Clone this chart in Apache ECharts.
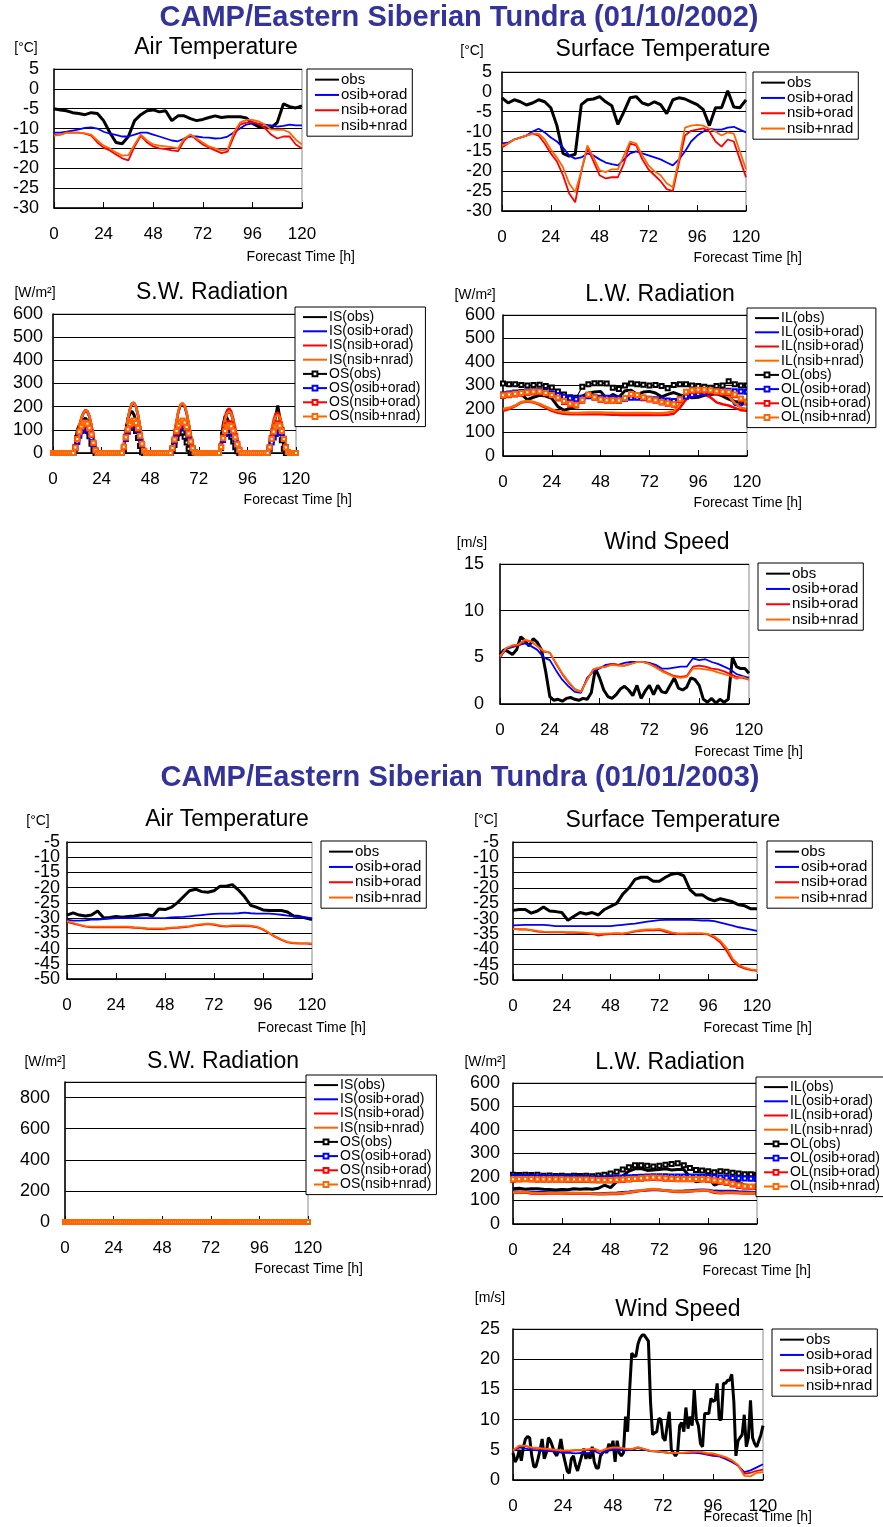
<!DOCTYPE html>
<html>
<head>
<meta charset="utf-8">
<script src="https://cdn.jsdelivr.net/npm/echarts@6/dist/echarts.min.js"></script>
<style>
  html, body { margin: 0; padding: 0; background: #ffffff; }
  #chart { width: 883px; height: 1527px; }
</style>
</head>
<body>
<div id="chart"></div>
<script>
// ---------------------------------------------------------------------------
// Forecast-hour sampling (index -> hour since start of forecast)
// ---------------------------------------------------------------------------
function hoursEvery(step) { const h = []; for (let t = 0; t <= 120; t += step) h.push(t); return h; }
const HOURS_1 = hoursEvery(1);
const HOURS_2 = hoursEvery(2);
const HOURS_3 = hoursEvery(3);

// Tick labels
const X_TICKS = [0, 24, 48, 72, 96, 120];
const Y_TICKS_TEMP_2002 = [-30, -25, -20, -15, -10, -5, 0, 5];
const Y_TICKS_TEMP_2003 = [-50, -45, -40, -35, -30, -25, -20, -15, -10, -5];
const Y_TICKS_RAD_600 = [0, 100, 200, 300, 400, 500, 600];
const Y_TICKS_RAD_800 = [0, 200, 400, 600, 800];
const Y_TICKS_WIND_2002 = [0, 5, 10, 15];
const Y_TICKS_WIND_2003 = [0, 5, 10, 15, 20, 25];

// Run names
const RUNS = ['obs', 'osib+orad', 'nsib+orad', 'nsib+nrad'];

// ---------------------------------------------------------------------------
// 01/10/2002 case
// ---------------------------------------------------------------------------
// Air temperature [degC], 3-hourly
const air02Obs = [-5,-5.3,-5.5,-6,-6.2,-6.5,-6,-6.2,-8,-11, -13.5,-13.8,-12,-8,-6.5,-5.5,-5.3,-5.8,-5.5,-8,
  -6.8,-6.8,-7.5,-8,-7.7,-7.2,-6.8,-7.2,-7,-7, -7,-7.3,-8.7,-9.5,-9.8,-9.8,-8.5,-3.8,-4.5,-4.8, -4.3];
const air02Osib = [-11,-11,-10.8,-10.5,-10.2,-9.8,-9.7,-10,-10.8,-11.3, -11.6,-12,-12,-11.5,-11,-11,-11.5,-12,-12.5,-13,
  -13.2,-12.5,-12,-12,-12.2,-12.3,-12.5,-12.4,-12,-11, -10,-9,-8.7,-8.8,-9,-9.2,-9.5,-9.3,-9,-9.2, -9.2];
const air02NsibOrad = [-11.5,-11.5,-11,-11,-11,-11.3,-11.8,-13.5,-14.8,-15.5, -16.5,-17.5,-18,-14.5,-11.8,-13.5,-14.5,-15,-15.2,-15.5,
  -15.7,-13,-11.5,-12.8,-14,-14.8,-15.5,-16.2,-15.8,-12, -9,-8.5,-8.3,-8.8,-9.8,-11.5,-12.5,-12,-12,-14, -15];
const air02NsibNrad = [-11.8,-11.5,-11,-11,-11,-11.2,-11.5,-13,-14.3,-15, -16,-16.8,-16.7,-14,-11.5,-13,-14,-14.3,-14.5,-14.7,
  -15,-12.5,-11.5,-12.5,-13.5,-14.5,-15,-15.5,-15.3,-11, -8.5,-7.8,-7.8,-8.2,-9,-10.2,-10.3,-10.3,-11,-12.8, -14];

// Surface temperature [degC], 3-hourly
const sfc02Obs = [-1.5,-2.8,-2,-2.5,-3.3,-2.8,-2,-2.5,-4,-8.5, -15.5,-16.2,-15.7,-3.2,-2,-1.8,-1.2,-2.5,-3.5,-8.2,
  -5,-1.5,-1.2,-2.8,-3.3,-2.5,-3.2,-5.5,-2,-1.5, -1.8,-2.5,-3.2,-4.5,-8.5,-4,-4,0.3,-3.8,-4, -2];
const sfc02Osib = [-13,-12.8,-12,-11.5,-11,-10,-9.3,-10.2,-11.5,-12.5, -14,-16,-16.8,-16.5,-15.5,-16,-17,-17.8,-18.2,-18.5,
  -17,-15.5,-15,-15.5,-16,-16.5,-17,-17.8,-18.5,-17, -15,-12.5,-11,-10,-9.3,-9.5,-9.5,-9,-8.8,-9.5, -10.2];
const sfc02NsibOrad = [-14,-13,-12,-11.5,-11,-10.5,-11,-13,-15.5,-17.5, -21,-25.5,-27.8,-20,-14,-17.5,-21,-21.8,-21.5,-21.5,
  -18,-13,-13.5,-17,-19.5,-21,-22.5,-24.5,-25,-18, -11,-9.8,-9.5,-9.2,-10,-12.5,-13.8,-12,-12.5,-17, -21.5];
const sfc02NsibNrad = [-13.5,-13,-12,-11.5,-11,-10.5,-10.5,-12,-14.5,-16.5, -19,-23,-25.3,-20,-13.5,-16.5,-19.8,-20.2,-19.5,-19.5,
  -16,-12.5,-13,-16,-18.5,-20,-21,-23,-24,-17, -9,-8.5,-8.3,-8.5,-9.3,-10,-11,-10.2,-10.5,-15, -19.5];

// Short-wave radiation [W/m2], hourly (one row per day)
const sw02IsObs = [
  0,0,0,0,0,0,0,0,0,0, 0,40,100,120,135,145,150,140,110,60,20,0,0,0,
  0,0,0,0,0,0,0,0,0,0, 0,20,90,150,170,180,165,135,100,50,5,0,0,0,
  0,0,0,0,0,0,0,0,0,0, 0,15,50,85,105,115,105,85,55,25,0,0,0,0,
  0,0,0,0,0,0,0,0,0,0, 0,40,120,160,150,130,105,75,40,15,0,0,0,0,
  0,0,0,0,0,0,0,0,0,0, 0,30,80,120,160,205,150,90,30,0,0,0,0,0,
  0];
const sw02IsOsib = [
  0,0,0,0,0,0,0,0,0,0, 0,28,72,112,148,170,180,176,155,115,65,18,0,0,
  0,0,0,0,0,0,0,0,0,0, 0,38,98,148,188,212,215,198,162,112,58,14,0,0,
  0,0,0,0,0,0,0,0,0,0, 0,28,82,135,180,205,210,200,170,125,75,30,4,0,
  0,0,0,0,0,0,0,0,0,0, 0,40,100,145,170,177,168,138,98,52,18,0,0,0,
  0,0,0,0,0,0,0,0,0,0, 0,30,70,100,118,125,115,90,55,22,3,0,0,0,
  0];
const sw02IsNsibOrad = [
  0,0,0,0,0,0,0,0,0,0, 0,30,76,117,152,175,185,182,160,120,70,20,0,0,
  0,0,0,0,0,0,0,0,0,0, 0,40,100,150,190,214,217,200,165,115,60,15,0,0,
  0,0,0,0,0,0,0,0,0,0, 0,30,85,138,183,208,213,203,173,128,78,33,5,0,
  0,0,0,0,0,0,0,0,0,0, 0,45,110,160,185,192,180,150,105,58,20,0,0,0,
  0,0,0,0,0,0,0,0,0,0, 0,42,100,145,170,175,160,125,78,32,5,0,0,0,
  0];
const sw02IsNsibNrad = [
  0,0,0,0,0,0,0,0,0,0, 0,30,75,115,150,172,183,180,160,120,70,20,0,0,
  0,0,0,0,0,0,0,0,0,0, 0,40,100,150,190,215,218,200,165,115,60,15,0,0,
  0,0,0,0,0,0,0,0,0,0, 0,30,85,140,185,210,215,205,175,130,80,35,5,0,
  0,0,0,0,0,0,0,0,0,0, 0,40,100,145,172,180,170,140,100,55,20,0,0,0,
  0,0,0,0,0,0,0,0,0,0, 0,40,95,135,158,165,155,120,75,30,5,0,0,0,
  0];
const sw02OsObs = [
  0,0,0,0,0,0,0,0,0,0, 0,25,65,88,100,105,103,95,72,40,10,0,0,0,
  0,0,0,0,0,0,0,0,0,0, 0,15,70,110,125,130,120,95,65,30,3,0,0,0,
  0,0,0,0,0,0,0,0,0,0, 0,10,35,65,85,95,88,70,45,18,0,0,0,0,
  0,0,0,0,0,0,0,0,0,0, 0,25,80,95,92,85,70,50,25,8,0,0,0,0,
  0,0,0,0,0,0,0,0,0,0, 0,20,55,85,100,110,90,55,18,0,0,0,0,0,
  0];
const sw02OsOsib = [
  0,0,0,0,0,0,0,0,0,0, 0,18,48,75,95,107,110,106,90,65,35,10,0,0,
  0,0,0,0,0,0,0,0,0,0, 0,22,60,92,112,123,125,116,95,66,34,8,0,0,
  0,0,0,0,0,0,0,0,0,0, 0,18,50,82,105,117,120,114,98,72,43,17,2,0,
  0,0,0,0,0,0,0,0,0,0, 0,22,56,82,98,104,98,80,57,30,10,0,0,0,
  0,0,0,0,0,0,0,0,0,0, 0,18,45,67,82,90,95,85,60,25,4,0,0,0,
  0];
const sw02OsNsibOrad = [
  0,0,0,0,0,0,0,0,0,0, 0,22,58,88,112,125,128,122,105,78,42,12,0,0,
  0,0,0,0,0,0,0,0,0,0, 0,25,65,98,120,132,135,126,104,72,38,10,0,0,
  0,0,0,0,0,0,0,0,0,0, 0,20,55,90,115,128,133,126,108,80,48,20,3,0,
  0,0,0,0,0,0,0,0,0,0, 0,28,68,100,120,128,122,102,72,40,14,0,0,0,
  0,0,0,0,0,0,0,0,0,0, 0,25,65,95,118,128,122,98,62,25,4,0,0,0,
  0];
const sw02OsNsibNrad = [
  0,0,0,0,0,0,0,0,0,0, 0,24,60,92,116,128,132,126,108,80,44,12,0,0,
  0,0,0,0,0,0,0,0,0,0, 0,27,68,102,125,137,140,130,108,75,40,10,0,0,
  0,0,0,0,0,0,0,0,0,0, 0,22,58,95,120,134,140,132,112,84,50,21,3,0,
  0,0,0,0,0,0,0,0,0,0, 0,26,64,95,113,120,115,96,68,38,13,0,0,0,
  0,0,0,0,0,0,0,0,0,0, 0,25,62,92,113,122,118,95,60,24,4,0,0,0,
  0];

// Long-wave radiation [W/m2], 3-hourly
const lw02IlObs = [250,258,265,262,240,250,258,255,245,210, 195,202,210,255,268,272,275,245,262,250,
  278,280,262,272,275,268,252,262,270,260, 252,248,250,258,262,265,255,242,232,228, 222];
const lw02IlOsib = [268,272,275,276,278,280,282,276,270,262, 256,250,245,250,256,253,250,250,249,247,
  246,250,250,248,246,244,241,238,236,245, 255,262,266,270,275,278,280,262,218,215, 230];
const lw02IlNsibOrad = [192,200,212,228,232,228,218,205,192,184, 180,178,178,178,178,178,178,177,176,175,
  175,175,175,175,175,175,174,176,180,205, 240,255,262,262,250,228,220,215,205,195, 193];
const lw02IlNsibNrad = [200,205,215,230,234,230,222,210,198,190, 186,184,183,184,185,185,185,184,184,183,
  183,183,183,183,183,182,182,185,190,225, 255,265,272,275,272,268,264,255,225,205, 200];
const lw02OlObs = [308,305,305,302,300,302,303,298,292,275, 262,250,248,295,305,310,310,308,290,285,
  300,308,305,303,300,302,298,288,302,305, 305,300,298,295,290,298,300,318,305,300, 300];
const lw02OlOsib = [262,266,270,272,274,276,278,273,266,258, 252,246,242,248,254,251,248,248,247,245,
  244,248,248,246,244,242,239,236,234,243, 253,260,264,268,272,275,277,278,276,275, 273];
const lw02OlNsibOrad = [255,258,262,265,268,270,272,266,258,245, 230,218,215,235,260,248,238,235,235,234,
  245,262,258,248,240,235,228,222,218,238, 270,276,278,278,275,270,268,268,258,240, 228];
const lw02OlNsibNrad = [258,262,265,268,271,273,274,268,260,248, 234,222,218,238,262,250,240,237,237,236,
  247,264,260,250,242,237,230,225,220,242, 273,280,282,282,280,276,273,272,262,245, 232];

// Wind speed [m/s]: observation 2-hourly, model runs 3-hourly
const wind02Obs = [5.3,5.8,5.6,5.3,5.8,7.2,6.8,6.2,7.0,6.6, 5.8,3.5,0.8,0.4,0.5,0.3,0.6,0.7,0.5,0.4,
  0.6,0.5,1.2,3.8,2.8,1.5,0.8,0.6,1.0,1.6, 1.9,1.5,0.9,2.0,0.6,1.4,2.0,1.0,2.0,1.3,
  1.2,2.0,2.8,1.7,1.5,1.8,2.8,2.6,2.0,0.5, 0.2,0.6,0.1,0.5,0.2,0.5,5.0,4.0,3.8,3.8, 3.3];
const wind02Osib = [5.0,5.9,6.1,6.3,6.5,6.2,5.8,5.0,4.7,3.6, 2.6,1.9,1.3,1.2,2.8,3.5,3.8,4.2,4.3,4.2,
  4.4,4.5,4.5,4.5,4.4,4.2,3.8,3.8,3.9,4.0, 4.0,4.9,4.7,4.8,4.5,4.3,4.0,3.7,3.2,3.0, 2.8];
const wind02NsibOrad = [5.0,6.0,6.2,6.3,6.8,6.7,6.2,5.6,5.5,4.3, 3.2,2.3,1.6,1.3,2.6,3.7,3.9,4.0,4.3,4.2,
  4.1,4.3,4.5,4.5,4.3,4.0,3.6,3.3,3.0,2.9, 3.0,4.0,4.1,4.0,3.8,3.7,3.5,3.2,2.9,2.8, 2.6];
const wind02NsibNrad = [5.1,6.0,6.3,6.4,6.9,6.7,6.2,5.7,5.5,4.4, 3.3,2.4,1.6,1.3,2.6,3.7,3.9,4.0,4.2,4.1,
  4.1,4.3,4.5,4.5,4.3,3.9,3.5,3.2,2.9,2.8, 2.9,3.8,3.8,3.7,3.6,3.4,3.2,3.0,2.7,2.9, 2.6];

// ---------------------------------------------------------------------------
// 01/01/2003 case
// ---------------------------------------------------------------------------
const air03Obs = [-29,-28.3,-29,-29.3,-29,-27.7,-30,-29.8,-29.5,-29.7, -29.5,-29.3,-29,-28.8,-29.3,-27,-27.2,-26.5,-25,-23,
  -21,-20.5,-21.3,-21.5,-21,-19.5,-19.5,-19,-20.8,-23, -25.8,-26.5,-27.3,-27.5,-27.5,-27.5,-28,-29.3,-29.5,-30, -30.5];
const air03Osib = [-30.5,-30.8,-30.8,-30.7,-30.5,-30.5,-30.3,-30.2,-30,-30, -30,-30,-30,-30,-30,-30,-30,-29.8,-29.7,-29.6,
  -29.4,-29.2,-29,-28.8,-28.6,-28.5,-28.5,-28.5,-28.4,-28.2, -28.4,-28.5,-28.5,-28.5,-28.7,-28.9,-29.2,-29.4,-29.6,-29.8, -30];
const air03NsibOrad = [-31.2,-31.8,-32.3,-32.8,-33,-33,-33,-33,-33,-33, -33,-33.2,-33.3,-33.5,-33.6,-33.6,-33.5,-33.3,-33.2,-33,
  -32.8,-32.4,-32.2,-32,-32.2,-32.6,-32.8,-32.6,-32.6,-32.6, -32.7,-33,-33.8,-35,-36.2,-37.2,-38,-38.3,-38.4,-38.4, -38.5];
const air03NsibNrad = [-31,-31.6,-32.1,-32.6,-32.8,-32.8,-32.8,-32.8,-32.8,-32.8, -32.8,-33,-33.1,-33.3,-33.4,-33.4,-33.3,-33.1,-33,-32.8,
  -32.6,-32.2,-32,-31.8,-32,-32.4,-32.6,-32.4,-32.4,-32.4, -32.5,-32.8,-33.6,-34.8,-36,-37,-37.8,-38.1,-38.2,-38.2, -38.3];

const sfc03Obs = [-27.3,-27,-27,-28.2,-27.5,-26.2,-27.5,-27.7,-28,-30.5, -29.2,-28,-28.5,-28,-28.8,-27,-26,-25,-22,-20,
  -17.2,-16.5,-16.5,-17.8,-17.8,-16.5,-15.5,-15.2,-16,-20.5, -22.3,-22.2,-23.5,-24.2,-23.5,-24,-24.5,-25.5,-25.8,-26.8, -26.8];
const sfc03Osib = [-32.2,-32.1,-32,-32,-32,-32,-32.2,-32.4,-32.4,-32.4, -32.4,-32.4,-32.4,-32.4,-32.4,-32.4,-32.4,-32.2,-32,-31.8,
  -31.6,-31.3,-31,-30.7,-30.5,-30.4,-30.4,-30.4,-30.4,-30.4, -30.5,-30.6,-30.6,-30.8,-31.3,-31.8,-32.3,-32.8,-33.2,-33.6, -34];
const sfc03NsibOrad = [-33.2,-33.6,-33.5,-33.8,-34.2,-34.4,-34.5,-34.5,-34.5,-34.6, -34.6,-34.7,-34.8,-35,-35.5,-35.2,-35,-34.9,-35,-34.6,
  -34.2,-34,-33.8,-33.8,-33.7,-34.3,-34.8,-35,-35,-34.9, -34.9,-34.9,-35.2,-36.2,-37.8,-40.5,-43.8,-45.5,-46.3,-46.8, -47];
const sfc03NsibNrad = [-33.4,-33.3,-33.4,-33.7,-34,-34.2,-34.3,-34.3,-34.3,-34.4, -34.4,-34.5,-34.6,-34.8,-35,-34.9,-34.8,-34.7,-34.8,-34.5,
  -34,-33.7,-33.5,-33.5,-33.3,-33.8,-34.5,-34.8,-34.8,-34.8, -34.8,-34.8,-35,-35.8,-37.2,-39.5,-43,-45,-46,-46.5, -46.8];

// Polar night: short-wave fluxes stay at zero for the whole forecast (hourly)
const sw03PolarNight = [
  0,0,0,0,0,0,0,0,0,0,0,0,0,0,0,0,0,0,0,0,0,0,0,0,
  0,0,0,0,0,0,0,0,0,0,0,0,0,0,0,0,0,0,0,0,0,0,0,0,
  0,0,0,0,0,0,0,0,0,0,0,0,0,0,0,0,0,0,0,0,0,0,0,0,
  0,0,0,0,0,0,0,0,0,0,0,0,0,0,0,0,0,0,0,0,0,0,0,0,
  0,0,0,0,0,0,0,0,0,0,0,0,0,0,0,0,0,0,0,0,0,0,0,0,
  0];

const lw03IlObs = [150,152,148,150,150,148,147,145,147,146, 150,148,150,148,152,165,155,180,205,225,
  235,236,228,230,232,235,230,232,232,200, 180,185,200,165,175,192,190,178,165,155, 150];
const lw03IlOsib = [138,137,136,136,135,135,134,134,133,132, 132,131,131,130,130,131,132,133,135,137,
  140,142,144,145,145,143,141,140,141,143, 145,146,145,141,140,140,140,138,137,136, 135];
const lw03IlNsibOrad = [132,133,134,130,129,129,130,130,130,129, 129,130,130,128,127,127,128,128,130,133,
  137,141,145,147,145,141,138,136,136,138, 140,142,141,133,131,132,132,131,130,130, 130];
const lw03IlNsibNrad = [134,135,136,133,131,131,132,132,132,131, 131,132,132,130,129,129,130,130,132,135,
  139,143,147,149,147,143,140,138,138,140, 142,144,143,136,133,134,134,133,132,132, 132];
const lw03OlObs = [210,208,210,208,210,205,206,204,205,203, 205,204,205,203,206,210,215,222,232,242,
  250,250,248,245,248,252,255,258,250,238, 230,228,225,220,224,222,218,215,212,212, 210];
const lw03OlOsib = [200,200,200,200,199,199,198,198,198,197, 197,196,196,195,195,195,196,197,198,199,
  200,201,202,203,203,203,202,202,202,202, 202,201,200,199,198,197,196,195,194,193, 192];
const lw03OlNsibOrad = [188,189,190,189,188,188,188,188,188,187, 187,187,187,186,185,185,185,186,187,189,
  191,193,195,196,195,193,191,190,190,190, 190,189,187,183,180,175,168,162,158,157, 158];
const lw03OlNsibNrad = [190,191,192,191,190,190,190,190,190,189, 189,189,189,188,187,187,187,188,189,191,
  193,195,197,198,197,195,193,192,192,192, 192,191,189,186,183,178,171,165,161,160, 160];

// Wind speed: observation hourly, model runs 3-hourly
const wind03Obs = [
  4.5,3.0,3.6,5.0,3.2,5.5,6.8,7.2,7.0,4.0,2.2,2.2,
  3.5,5.0,6.8,3.5,4.5,7.0,6.5,5.5,4.5,4.0,5.0,6.8,
  4.5,3.0,1.5,1.1,3.5,4.0,2.5,1.5,2.8,4.0,5.2,3.5,
  4.5,3.5,5.5,3.0,2.0,2.0,4.0,4.5,5.0,4.5,6.0,5.0,
  6.5,3.0,6.5,4.5,4.0,4.5,10.5,8.0,15.0,21.0,20.5,20.5,
  22.5,23.5,24.0,24.0,23.5,23.0,13.0,7.5,7.8,8.0,10.2,10.0,
  7.0,6.5,9.0,11.3,5.0,4.5,4.0,4.5,9.0,9.5,8.0,12.0,
  8.5,10.5,9.0,15.0,10.0,9.0,6.0,5.5,11.0,11.0,11.0,13.5,
  13.0,13.2,16.0,10.0,10.0,16.0,16.0,16.5,16.5,17.5,13.0,4.0,
  6.5,7.0,7.5,10.8,5.5,7.0,13.2,7.0,6.0,5.5,6.5,7.5,
  9.0];
const wind03Osib = [4.8,5.4,5.2,5.0,4.9,4.8,4.8,4.6,4.5,4.5, 4.4,4.5,4.4,4.8,4.3,4.8,5.0,5.0,4.9,5.0,
  5.3,5.0,4.8,4.7,4.6,4.5,4.5,4.5,4.5,4.5, 4.4,4.2,4.0,3.9,3.5,3.0,2.4,1.3,1.6,2.1, 2.6];
const wind03NsibOrad = [4.8,5.6,5.6,5.3,5.2,5.1,5.0,4.9,4.8,4.8, 4.9,4.9,5.0,5.1,4.7,5.1,5.3,5.3,5.1,5.1,
  5.4,5.1,4.8,4.8,4.6,4.5,4.5,4.5,4.5,4.6, 4.6,4.3,4.2,4.0,3.7,3.2,2.4,1.0,1.2,1.5, 1.7];
const wind03NsibNrad = [4.9,5.7,5.7,5.4,5.3,5.2,5.1,5.0,4.9,4.9, 5.0,5.0,5.1,5.2,4.8,5.2,5.4,5.4,5.2,5.1,
  5.4,5.1,4.8,4.8,4.6,4.5,4.5,4.5,4.6,4.7, 4.7,4.5,4.4,4.1,3.8,3.3,2.5,0.7,0.6,1.2, 1.3];

// ---------------------------------------------------------------------------
// Styling
// ---------------------------------------------------------------------------
const FONT = '"Liberation Sans", Arial, Helvetica, sans-serif';
const Y_LABEL_SIZE = 18;
const RUN_COLORS = { 'obs': '#000000', 'osib+orad': '#0000ff', 'nsib+orad': '#ff0000', 'nsib+nrad': '#ff6600' };

function styleFor(name) {
  const m = name.match(/^(IS|IL|OS|OL)\((.+)\)$/);
  if (!m) return { color: RUN_COLORS[name], width: name === 'obs' ? 3 : 1.8, marker: false };
  const run = m[2];
  const outgoing = m[1].charAt(0) === 'O';
  return { color: RUN_COLORS[run], width: outgoing ? 1.1 : (run === 'obs' ? 3 : 2.5), marker: outgoing };
}

function radNames(prefix) { return RUNS.map(r => prefix + '(' + r + ')'); }

// Panels: [series name, hour sampling, values]
// denseLabels: tick spacing is tighter than the label height, so the labels
// are placed by hand at the axis' own pixel positions (ECharts would drop some).
const panels = [
  { title: 'Air Temperature', unit: '[°C]', yTicks: Y_TICKS_TEMP_2002,
    grid: [54, 69, 248, 139], titleAt: [216, 48], unitAt: [26, 48], xNameAt: [355, 257],
    legendAt: [307, 69], legendFont: 15, labelMargin: 15,
    series: [['obs', HOURS_3, air02Obs], ['osib+orad', HOURS_3, air02Osib], ['nsib+orad', HOURS_3, air02NsibOrad], ['nsib+nrad', HOURS_3, air02NsibNrad]] },
  { title: 'Surface Temperature', unit: '[°C]', yTicks: Y_TICKS_TEMP_2002,
    grid: [502, 72, 244, 139], titleAt: [663, 50], unitAt: [472, 51], xNameAt: [802, 258],
    legendAt: [753, 72], legendFont: 15, labelMargin: 10,
    series: [['obs', HOURS_3, sfc02Obs], ['osib+orad', HOURS_3, sfc02Osib], ['nsib+orad', HOURS_3, sfc02NsibOrad], ['nsib+nrad', HOURS_3, sfc02NsibNrad]] },
  { title: 'S.W. Radiation', unit: '[W/m²]', yTicks: Y_TICKS_RAD_600,
    grid: [53, 314, 243, 139], titleAt: [212, 293], unitAt: [35, 293], xNameAt: [352, 500],
    legendAt: [295, 307], legendFont: 14, labelMargin: 10,
    series: [
      ['IS(obs)', HOURS_1, sw02IsObs], ['IS(osib+orad)', HOURS_1, sw02IsOsib], ['IS(nsib+orad)', HOURS_1, sw02IsNsibOrad], ['IS(nsib+nrad)', HOURS_1, sw02IsNsibNrad],
      ['OS(obs)', HOURS_1, sw02OsObs], ['OS(osib+orad)', HOURS_1, sw02OsOsib], ['OS(nsib+orad)', HOURS_1, sw02OsNsibOrad], ['OS(nsib+nrad)', HOURS_1, sw02OsNsibNrad]] },
  { title: 'L.W. Radiation', unit: '[W/m²]', yTicks: Y_TICKS_RAD_600,
    grid: [503, 315, 244, 141], titleAt: [660, 295], unitAt: [475, 295], xNameAt: [802, 503],
    legendAt: [747, 308], legendFont: 14, labelMargin: 8,
    series: [
      ['IL(obs)', HOURS_3, lw02IlObs], ['IL(osib+orad)', HOURS_3, lw02IlOsib], ['IL(nsib+orad)', HOURS_3, lw02IlNsibOrad], ['IL(nsib+nrad)', HOURS_3, lw02IlNsibNrad],
      ['OL(obs)', HOURS_3, lw02OlObs], ['OL(osib+orad)', HOURS_3, lw02OlOsib], ['OL(nsib+orad)', HOURS_3, lw02OlNsibOrad], ['OL(nsib+nrad)', HOURS_3, lw02OlNsibNrad]] },
  { title: 'Wind Speed', unit: '[m/s]', yTicks: Y_TICKS_WIND_2002,
    grid: [500, 564, 249, 140], titleAt: [667, 543], unitAt: [472, 543], xNameAt: [803, 752],
    legendAt: [758, 563], legendFont: 15, labelMargin: 16,
    series: [['obs', HOURS_2, wind02Obs], ['osib+orad', HOURS_3, wind02Osib], ['nsib+orad', HOURS_3, wind02NsibOrad], ['nsib+nrad', HOURS_3, wind02NsibNrad]] },

  { title: 'Air Temperature', unit: '[°C]', yTicks: Y_TICKS_TEMP_2003, denseLabels: true,
    grid: [67, 842, 245, 137], titleAt: [227, 820], unitAt: [38, 821], xNameAt: [366, 1028],
    legendAt: [321, 841], legendFont: 15, labelMargin: 7,
    series: [['obs', HOURS_3, air03Obs], ['osib+orad', HOURS_3, air03Osib], ['nsib+orad', HOURS_3, air03NsibOrad], ['nsib+nrad', HOURS_3, air03NsibNrad]] },
  { title: 'Surface Temperature', unit: '[°C]', yTicks: Y_TICKS_TEMP_2003, denseLabels: true,
    grid: [513, 842, 244, 138], titleAt: [673, 821], unitAt: [486, 820], xNameAt: [812, 1028],
    legendAt: [767, 841], legendFont: 15, labelMargin: 14,
    series: [['obs', HOURS_3, sfc03Obs], ['osib+orad', HOURS_3, sfc03Osib], ['nsib+orad', HOURS_3, sfc03NsibOrad], ['nsib+nrad', HOURS_3, sfc03NsibNrad]] },
  { title: 'S.W. Radiation', unit: '[W/m²]', yTicks: Y_TICKS_RAD_800, yMax: 900,
    grid: [65, 1082, 243, 140], titleAt: [223, 1062], unitAt: [45, 1062], xNameAt: [363, 1269],
    legendAt: [306, 1075], legendFont: 14, labelMargin: 15,
    series: radNames('IS').concat(radNames('OS')).map(n => [n, HOURS_1, sw03PolarNight]) },
  { title: 'L.W. Radiation', unit: '[W/m²]', yTicks: Y_TICKS_RAD_600,
    grid: [513, 1083, 244, 141], titleAt: [670, 1063], unitAt: [485, 1062], xNameAt: [811, 1271],
    legendAt: [756, 1077], legendFont: 14, labelMargin: 13,
    series: [
      ['IL(obs)', HOURS_3, lw03IlObs], ['IL(osib+orad)', HOURS_3, lw03IlOsib], ['IL(nsib+orad)', HOURS_3, lw03IlNsibOrad], ['IL(nsib+nrad)', HOURS_3, lw03IlNsibNrad],
      ['OL(obs)', HOURS_3, lw03OlObs], ['OL(osib+orad)', HOURS_3, lw03OlOsib], ['OL(nsib+orad)', HOURS_3, lw03OlNsibOrad], ['OL(nsib+nrad)', HOURS_3, lw03OlNsibNrad]] },
  { title: 'Wind Speed', unit: '[m/s]', yTicks: Y_TICKS_WIND_2003,
    grid: [513, 1329, 250, 151], titleAt: [678, 1310], unitAt: [490, 1298], xNameAt: [812, 1517],
    legendAt: [772, 1329], legendFont: 15, labelMargin: 13,
    series: [['obs', HOURS_1, wind03Obs], ['osib+orad', HOURS_3, wind03Osib], ['nsib+orad', HOURS_3, wind03NsibOrad], ['nsib+nrad', HOURS_3, wind03NsibNrad]] }
];

const CASE_TITLES = [
  { text: 'CAMP/Eastern Siberian Tundra (01/10/2002)', at: [459, 18] },
  { text: 'CAMP/Eastern Siberian Tundra (01/01/2003)', at: [460, 778] }
];

// ---------------------------------------------------------------------------
// Option assembly
// ---------------------------------------------------------------------------
const grids = [], xAxes = [], yAxes = [], legends = [], seriesList = [], texts = [];

panels.forEach((p, i) => {
  grids.push({
    left: p.grid[0], top: p.grid[1], width: p.grid[2], height: p.grid[3],
    show: true, borderColor: '#8a8a8a', borderWidth: 1, backgroundColor: '#ffffff'
  });
  xAxes.push({
    gridIndex: i, type: 'value',
    min: X_TICKS[0], max: X_TICKS[X_TICKS.length - 1], interval: X_TICKS[1] - X_TICKS[0],
    axisLine: { show: true, onZero: false, lineStyle: { color: '#000', width: 1.5 } },
    axisTick: { show: true, inside: true, length: 6, lineStyle: { color: '#000', width: 1 } },
    axisLabel: { margin: 18, fontSize: 17, color: '#000', fontFamily: FONT, showMinLabel: true, showMaxLabel: true },
    splitLine: { show: false }
  });
  const t = p.yTicks;
  yAxes.push({
    gridIndex: i, type: 'value',
    min: t[0], max: p.yMax !== undefined ? p.yMax : t[t.length - 1], interval: t[1] - t[0],
    axisLine: { show: true, onZero: false, lineStyle: { color: '#000', width: 1.5 } },
    axisTick: { show: false },
    axisLabel: { show: !p.denseLabels, margin: p.labelMargin, fontSize: Y_LABEL_SIZE, color: '#000', fontFamily: FONT,
                 showMinLabel: true, showMaxLabel: p.yMax === undefined },
    splitLine: { show: true, lineStyle: { color: '#000', width: 1 } }
  });

  p.series.forEach(([name, hours, values]) => {
    const st = styleFor(name);
    seriesList.push({
      type: 'line', name, xAxisIndex: i, yAxisIndex: i,
      data: values.map((v, k) => [hours[k], v]),
      symbol: st.marker ? 'emptyRect' : 'none',
      symbolSize: 4, showSymbol: st.marker,
      lineStyle: { color: st.color, width: st.width },
      itemStyle: { color: st.color, borderColor: st.color, borderWidth: 1 },
      silent: true, animation: false
    });
  });

  const rowH = p.legendFont === 15 ? 15.3 : 14.2;
  legends.push({
    orient: 'vertical', left: p.legendAt[0], top: p.legendAt[1], z: 10,
    // plain lines show no marker in the key; outgoing fluxes keep their square marker
    data: p.series.map(s => styleFor(s[0]).marker ? { name: s[0] } : { name: s[0], itemStyle: { opacity: 0 } }),
    itemWidth: 24, itemHeight: 6, itemGap: 0,
    padding: [3, 5, 3, 7],
    borderColor: '#000', borderWidth: 1, backgroundColor: '#ffffff',
    selectedMode: false,
    textStyle: { fontSize: p.legendFont, fontFamily: FONT, color: '#000', lineHeight: rowH, padding: [0, 0, 0, -3] }
  });

  texts.push({ type: 'text', x: p.titleAt[0], y: p.titleAt[1], z: 20,
    style: { text: p.title, fontSize: 23, fontFamily: FONT, fill: '#000', align: 'center', verticalAlign: 'middle' } });
  texts.push({ type: 'text', x: p.unitAt[0], y: p.unitAt[1], z: 20,
    style: { text: p.unit, fontSize: 14, fontFamily: FONT, fill: '#000', align: 'center', verticalAlign: 'middle' } });
  texts.push({ type: 'text', x: p.xNameAt[0], y: p.xNameAt[1], z: 20,
    style: { text: 'Forecast Time [h]', fontSize: 14, fontFamily: FONT, fill: '#000', align: 'right', verticalAlign: 'middle' } });
});

CASE_TITLES.forEach(c => {
  texts.push({ type: 'text', x: c.at[0], y: c.at[1], z: 20,
    style: { text: c.text, fontSize: 29, fontWeight: 'bold', fontFamily: FONT, fill: '#333399', align: 'center', verticalAlign: 'middle' } });
});

const chart = echarts.init(document.getElementById('chart'), null, { renderer: 'canvas' });
chart.setOption({
  backgroundColor: '#ffffff',
  animation: false,
  textStyle: { fontFamily: FONT },
  grid: grids,
  xAxis: xAxes,
  yAxis: yAxes,
  legend: legends,
  series: seriesList,
  graphic: { elements: texts }
});

// Tick labels for the densely ticked temperature axes, positioned through the axis scale
panels.forEach((p, i) => {
  if (!p.denseLabels) return;
  p.yTicks.forEach(v => {
    const y = chart.convertToPixel({ yAxisIndex: i }, v);
    texts.push({ type: 'text', x: p.grid[0] - p.labelMargin, y: y, z: 20,
      style: { text: String(v), fontSize: Y_LABEL_SIZE, fontFamily: FONT, fill: '#000', align: 'right', verticalAlign: 'middle' } });
  });
});
chart.setOption({ graphic: { elements: texts } });
</script>
</body>
</html>
